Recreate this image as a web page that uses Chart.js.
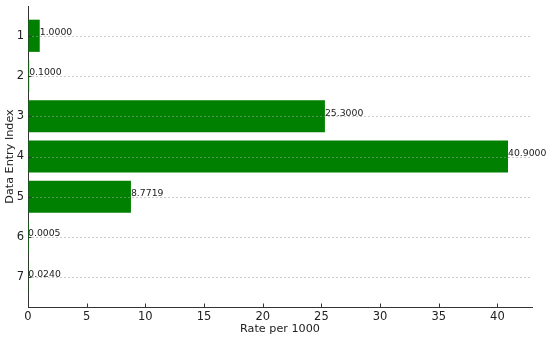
<!DOCTYPE html>
<html><head><meta charset="utf-8">
<script src="https://cdn.jsdelivr.net/npm/chart.js@4"></script>
<style>html,body{margin:0;padding:0;background:#fff}#w{width:550px;height:339px}</style>
</head><body><div id="w"><canvas id="c"></canvas></div>
<script>
const categories = ['1','2','3','4','5','6','7'];
const values = [1.0, 0.1, 25.3, 40.9, 8.7719, 0.0005, 0.024];
const xTicks = [0,5,10,15,20,25,30,35,40];
const xTitle = 'Rate per 1000';
const yTitle = 'Data Entry Index';

const FONT = "'DejaVu Sans', sans-serif";
const pts = values.map((v,i)=>({x:v, y:i+1}));

const overlay = {
  id:'overlay',
  afterDatasetsDraw(chart){
    const ctx = chart.ctx, a = chart.chartArea, xs = chart.scales.x, ys = chart.scales.y;
    ctx.save();
    ctx.strokeStyle = 'rgba(160,160,160,0.7)';
    ctx.lineWidth = 0.8;
    ctx.setLineDash([2,2]);
    categories.forEach((c,i)=>{
      const y = Math.round(ys.getPixelForValue(i+1))+0.5;
      ctx.beginPath(); ctx.moveTo(a.left,y); ctx.lineTo(a.right,y); ctx.stroke();
    });
    ctx.setLineDash([]);
    ctx.strokeStyle = '#333';
    ctx.lineWidth = 1;
    categories.forEach((c,i)=>{
      const y = Math.round(ys.getPixelForValue(i+1))+0.5;
      ctx.beginPath(); ctx.moveTo(a.left,y); ctx.lineTo(a.left+3.5,y); ctx.stroke();
    });
    xTicks.forEach(v=>{
      const x = Math.round(xs.getPixelForValue(v))+0.5;
      ctx.beginPath(); ctx.moveTo(x,a.bottom); ctx.lineTo(x,a.bottom-3.5); ctx.stroke();
    });
    ctx.fillStyle = '#222';
    ctx.font = '9.3px ' + FONT;
    ctx.textBaseline = 'middle';
    ctx.textAlign = 'left';
    values.forEach((v,i)=>{
      const x = xs.getPixelForValue(v);
      const y = ys.getPixelForValue(i+1) - 3;
      ctx.fillText(v.toFixed(4), x, y);
    });
    ctx.restore();
  }
};

new Chart(document.getElementById('c'), {
  type:'bar',
  data:{datasets:[{data:pts, backgroundColor:'#008000', borderColor:'#008000', borderWidth:0,
    barPercentage:0.8, categoryPercentage:1.0}]},
  options:{
    indexAxis:'y', responsive:true, maintainAspectRatio:false, animation:false,
    layout:{padding:{top:6,right:18,left:0,bottom:0}},
    plugins:{legend:{display:false}, tooltip:{enabled:false}},
    scales:{
      x:{type:'linear', min:0, max:42.945, offset:false,
        afterBuildTicks(s){ s.ticks = xTicks.map(v=>({value:v})); },
        afterFit(s){ s.height = 32; s.paddingLeft = 0; s.paddingRight = 0; },
        grid:{display:true, drawOnChartArea:false, drawTicks:false, offset:false},
        border:{display:true, color:'#333', width:1},
        ticks:{color:'#222', font:{family:FONT, size:11.5}, padding:3, maxRotation:0},
        title:{display:true, text:xTitle, color:'#222', font:{family:FONT, size:11.2}, padding:{top:0,bottom:3}}
      },
      y:{type:'linear', reverse:true, min:0.26, max:7.74, offset:false,
        afterBuildTicks(s){ s.ticks = categories.map((c,i)=>({value:i+1})); },
        afterFit(s){ s.width = 28; s.paddingTop = 0; s.paddingBottom = 0; },
        grid:{display:true, drawOnChartArea:false, drawTicks:false, offset:false},
        border:{display:true, color:'#333', width:1},
        ticks:{color:'#222', font:{family:FONT, size:11.5}, padding:4,
          callback:(v)=>categories[v-1]},
        title:{display:true, text:yTitle, color:'#222', font:{family:FONT, size:11.2}, padding:{top:3,bottom:0}}
      }
    }
  },
  plugins:[overlay]
});
</script></body></html>
